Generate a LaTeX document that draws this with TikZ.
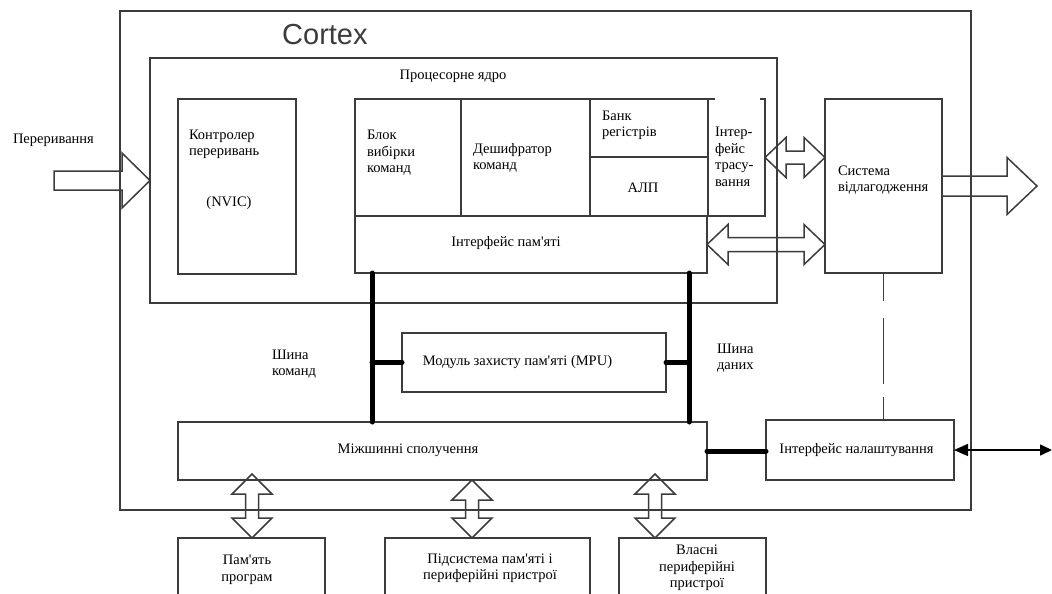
\documentclass[tikz,border=0pt]{standalone}
\usepackage{fontspec}
\setmainfont{Liberation Serif}[Ligatures=TeXOff]
\newfontfamily\cortexfont{Liberation Sans}
\usetikzlibrary{arrows.meta,calc}
\definecolor{linec}{HTML}{3C3C3C}
\begin{document}
\begin{tikzpicture}[x=1pt,y=-1pt,
  ln/.style={draw=linec,line width=1.5pt},
  box/.style={ln,rectangle,inner sep=0pt,outer sep=0pt,anchor=north west},
  txt/.style={inner sep=0pt,outer sep=0pt,font=\fontsize{14.5}{16.5}\selectfont,text=black},
  bus/.style={line width=5pt,draw=black,line cap=round},
  barrow/.style={ln,line join=miter}]
\useasboundingbox[fill=white] (0,0) rectangle (1052,594);
\clip (0,0) rectangle (1052,594);

% boxes
\node[box,minimum width=851pt,minimum height=499pt] (cortex) at (120,11) {};
\node[box,minimum width=627pt,minimum height=245pt] (core) at (150,58) {};
\node[box,minimum width=118pt,minimum height=175pt] (nvic) at (178,99) {};
\node[box,minimum width=106pt,minimum height=117pt] (fetch) at (355,99) {};
\node[box,minimum width=129pt,minimum height=117pt] (dec) at (461,99) {};
\node[box,minimum width=118pt,minimum height=58pt] (regs) at (590,99) {};
\node[box,minimum width=118pt,minimum height=59pt] (alu) at (590,157) {};
\node[box,draw=none,minimum width=57pt,minimum height=117pt] (trace) at (708,99) {};
\draw[ln] ($(trace.north west)+(7,0)$) -- (trace.north west) -- (trace.south west) -- (trace.south east) -- (trace.north east) -- ($(trace.north east)+(-5,0)$);
\node[box,minimum width=352pt,minimum height=57pt] (memif) at (355,216) {};
\node[box,minimum width=117pt,minimum height=174pt] (dbg) at (825,99) {};
\node[box,minimum width=264pt,minimum height=59pt] (mpu) at (402,333) {};
\node[box,minimum width=529pt,minimum height=58pt] (mib) at (178,422) {};
\node[box,minimum width=188pt,minimum height=60pt] (dbgif) at (766,420) {};
\node[box,minimum width=147pt,minimum height=70pt] (pm) at (178,538) {};
\node[box,minimum width=205pt,minimum height=70pt] (sub) at (385,538) {};
\node[box,minimum width=147pt,minimum height=70pt] (own) at (619,538) {};

% texts
\node[font=\cortexfont\fontsize{29}{30}\selectfont,text=linec,anchor=base west,inner sep=0pt] (tcortex) at (282,45) {Cortex};
\node[txt,anchor=west] (tint) at (13,140) {Переривання};
\node[txt] (tcore) at (453,76) {Процесорне ядро};
\node[txt,anchor=west,align=left] (tnvic) at (189,144.5) {Контролер\\переривань};
\node[txt] (tnvic2) at (229,203) {(NVIC)};
\node[txt,anchor=west,align=left] (tfetch) at (367,153) {Блок\\вибірки\\команд};
\node[txt,anchor=west,align=left] (tdec) at (473,158) {Дешифратор\\команд};
\node[txt,anchor=west,align=left] (tregs) at (602,125.5) {Банк\\регістрів};
\node[txt] (talu) at (643,188) {АЛП};
\node[txt,anchor=west,align=left] (ttrace) at (715,157) {Інтер-\\фейс\\трасу-\\вання};
\node[txt] (tmemif) at (506,243) {Інтерфейс пам'яті};
\node[txt,anchor=west,align=left] (tdbg) at (838,180) {Система\\відлагодження};
\node[txt,anchor=west,align=left] (tbi) at (272,364) {Шина\\команд};
\node[txt,anchor=west,align=left] (tbd) at (717,358) {Шина\\даних};
\node[txt] (tmpu) at (517.5,362) {Модуль захисту пам'яті (MPU)};
\node[txt] (tmib) at (408,450) {Міжшинні сполучення};
\node[txt] (tdbgif) at (856.5,450) {Інтерфейс налаштування};
\node[txt,align=center] (tpm) at (247,570) {Пам'ять\\програм};
\node[txt,align=center] (tsub) at (490,568) {Підсистема пам'яті і\\периферійні пристрої};
\node[txt,align=center] (town) at (697,568) {Власні\\периферійні\\пристрої};

% block arrows
\draw[barrow,shift={(core.west)}] (0,0) -- (-28,-27.5) -- (-28,-9.5) -- (-96,-9.5) -- (-96,9.5) -- (-28,9.5) -- (-28,27.5) -- cycle;
\draw[barrow,shift={(trace.east)}] (0,0) -- (21,-20) -- (21,-6.5) -- (39,-6.5) -- (39,-20) -- (60,0) -- (39,20) -- (39,6.5) -- (21,6.5) -- (21,20) -- cycle;
\draw[barrow,shift={(memif.east)}] (0,0) -- (21,-20) -- (21,-7) -- (97,-7) -- (97,-20) -- (118,0) -- (97,20) -- (97,7) -- (21,7) -- (21,20) -- cycle;
\draw[barrow,shift={(dbg.east)}] (0,-10) -- (65,-10) -- (65,-28.5) -- (95,0) -- (65,28.5) -- (65,10) -- (0,10);
\draw[barrow,shift={($(pm.north west)+(74,0)$)}] (0,0) -- (-20,-20) -- (-6.5,-20) -- (-6.5,-44) -- (-20,-44) -- (0,-64) -- (20,-44) -- (6.5,-44) -- (6.5,-20) -- (20,-20) -- cycle;
\draw[barrow,shift={($(sub.north west)+(87,0)$)}] (0,0) -- (-20,-20) -- (-6.5,-20) -- (-6.5,-38) -- (-20,-38) -- (0,-58) -- (20,-38) -- (6.5,-38) -- (6.5,-20) -- (20,-20) -- cycle;
\draw[barrow,shift={($(own.north west)+(36,0)$)}] (0,0) -- (-20,-20) -- (-6.5,-20) -- (-6.5,-44) -- (-20,-44) -- (0,-64) -- (20,-44) -- (6.5,-44) -- (6.5,-20) -- (20,-20) -- cycle;

% buses
\coordinate (bl) at ($(memif.south west)+(17,0)$);
\coordinate (br) at ($(memif.south east)+(-18,0)$);
\draw[bus] (bl) -- (bl |- mib.north);
\draw[bus] (br) -- (br |- mib.north);
\draw[bus] (mpu.west) -- (mpu.west -| bl);
\draw[bus] (mpu.east) -- (mpu.east -| br);
\draw[bus] (mib.east) -- (mib.east -| dbgif.west);

% dashed link
\draw[ln,dash pattern=on 28pt off 17pt on 66pt off 13pt on 40pt] (dbg.south) -- (dbg.south |- dbgif.north);

% debug interface external link
\coordinate (dout) at (1052,450);
\draw[ln,draw=black,{Triangle[length=14pt,width=12pt]}-{Triangle[length=12pt,width=11pt]}] (dbgif.east) -- (dout);
\end{tikzpicture}
\end{document}
